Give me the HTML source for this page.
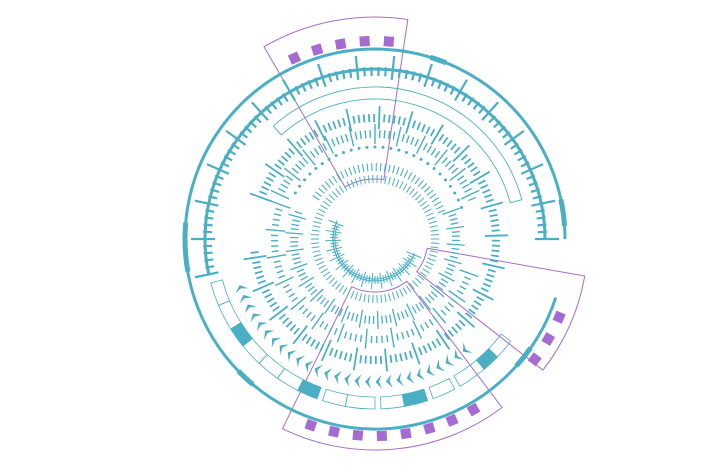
<!DOCTYPE html>
<html><head><meta charset="utf-8"><style>html,body{margin:0;padding:0;background:#fff;width:720px;height:476px;overflow:hidden}</style></head>
<body>
<svg id="s" xmlns="http://www.w3.org/2000/svg" width="720" height="476" viewBox="0 0 720 476"></svg>
<script>
const S=document.getElementById('s');const cx=375,cy=239;const T='#4aafc4',PU='#a66bd3';
let h='';
function P(r,a){a*=Math.PI/180;return [(cx+r*Math.cos(a)).toFixed(2),(cy+r*Math.sin(a)).toFixed(2)]}
function arc(r,a1,a2){const p=P(r,a1),q=P(r,a2);const l=(a2-a1)>180?1:0;return `M${p[0]},${p[1]}A${r},${r} 0 ${l} 1 ${q[0]},${q[1]}`}
function sector(r1,r2,a1,a2){const p=P(r2,a2),q=P(r1,a2),l=(a2-a1)>180?1:0,m=P(r1,a1);return arc(r2,a1,a2)+`L${q[0]},${q[1]}A${r1},${r1} 0 ${l} 0 ${m[0]},${m[1]}Z`}
function path(d,st){h+=`<path d="${d}" ${st}/>`}
function line(r1,r2,a,w,c){const p=P(r1,a),q=P(r2,a);h+=`<line x1="${p[0]}" y1="${p[1]}" x2="${q[0]}" y2="${q[1]}" stroke="${c||T}" stroke-width="${w}"/>`}
function ticks(r1,r2,a1,a2,step,w,every,mr1,mr2){let i=0;for(let a=a1;a<=a2+1e-6;a+=step,i++){if(every&&i%every==0)line(mr1,mr2,a,w);else line(r1,r2,a,w)}}
path(sector(60,222,240,278.5),`fill="none" stroke="${PU}" stroke-width="1"`);
path(sector(53,213,10,38),`fill="none" stroke="${PU}" stroke-width="1"`);
path(sector(53,211,53,116),`fill="none" stroke="${PU}" stroke-width="1"`);
path(arc(190,18,360),`fill="none" stroke="${T}" stroke-width="3"`);
path(arc(190,170,185),`fill="none" stroke="${T}" stroke-width="5"`);
path(arc(190,348,356),`fill="none" stroke="${T}" stroke-width="5"`);
path(arc(190,287,292),`fill="none" stroke="${T}" stroke-width="5"`);
path(arc(190,130,136),`fill="none" stroke="${T}" stroke-width="5"`);
path(arc(190,35,42),`fill="none" stroke="${T}" stroke-width="5"`);
function sq(r,a){const p=P(r,a);h+=`<rect x="${p[0]-5}" y="${p[1]-5}" width="10" height="10" fill="${PU}" transform="rotate(${a+90} ${p[0]} ${p[1]})"/>`}
[246,253,260,267,274].forEach(a=>sq(198,a));
[23,30,37].forEach(a=>sq(200,a));
[60,67,74,81,88,95,102,109].forEach(a=>sq(197,a)); 
path(arc(170,168,360),`fill="none" stroke="${T}" stroke-width="3"`);
ticks(163,172,168,360,2.4,2.2,5,160,184);
const segs=[[37,44,0],[44,50,1],[50,60,0],[62,70,0],[72,80,1],[80,88,0],[90,100,0],[100,108,0],[110,117,1],[117,125,0],[125,133,0],[133,141,0],[141,148,1],[148,157,0],[157,165,0]];
segs.forEach(s=>path(sector(158,170,s[0],s[1]),s[2]?`fill="${T}" stroke="${T}" stroke-width="1"`:`fill="none" stroke="${T}" stroke-width="0.8"`));
path(sector(140,152,228,345),`fill="none" stroke="${T}" stroke-width="0.9"`);
for(let a=50;a<=162;a+=4.2){const t=P(143,a+2),u=P(136,a-0.5),v=P(150,a-0.5),m=P(143,a+0.6);h+=`<path d="M${u[0]},${u[1]}L${t[0]},${t[1]}L${v[0]},${v[1]}L${m[0]},${m[1]}Z" fill="${T}"/>`}
ticks(117,125,-160,175,2.4,1.8,6,110,133);
ticks(97,104,20,200,3,1.4,5,90,110);
ticks(101,109,205,340,2.6,1.4,5,95,115);
for(let a=210;a<=340;a+=5){const p=P(92,a);h+=`<circle cx="${p[0]}" cy="${p[1]}" r="1.5" fill="${T}"/>`}
ticks(77,85,-20,200,3,1.3,4,72,90);
ticks(68,76,215,340,3.5,1.1,0);
ticks(56,64,0,360,4,1,0);
path(arc(42,20,206),`fill="none" stroke="${T}" stroke-width="1.2"`);
path(arc(40,30,200),`fill="none" stroke="${T}" stroke-width="1"`);
ticks(37,45,22,205,4,1,3,34,50);
S.innerHTML=h;
</script>
</body></html>
